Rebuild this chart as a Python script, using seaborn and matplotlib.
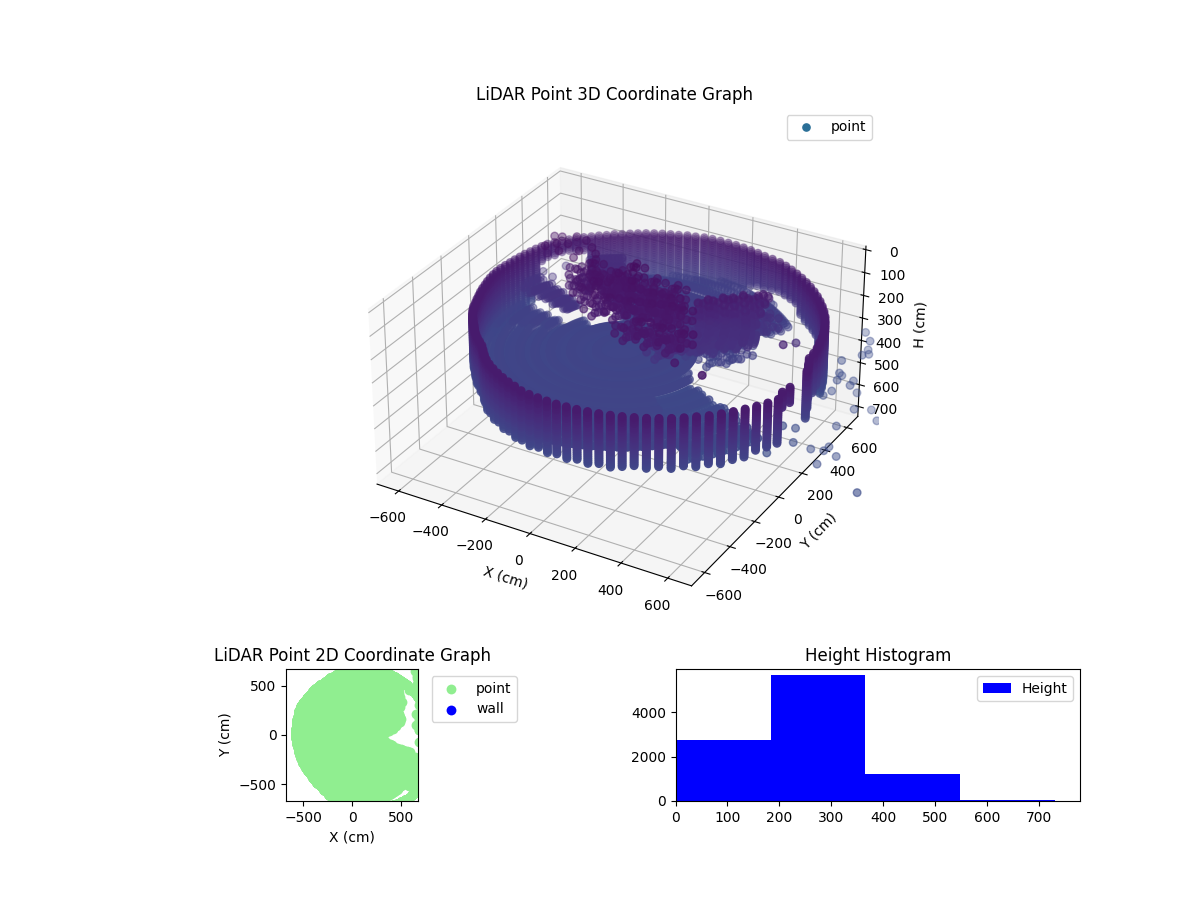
# LiDAR scan of a round room: 3D point cloud, top view and height histogram
import numpy as np
import seaborn as sns
import matplotlib.pyplot as plt
from matplotlib.lines import Line2D
from mpl_toolkits.mplot3d import Axes3D

# scan rays, one every 3 degrees
ray_angle = [0, 3, 6, 9, 12, 15, 18, 21, 24, 27,
             30, 33, 36, 39, 42, 45, 48, 51, 54, 57,
             60, 63, 66, 69, 72, 75, 78, 81, 84, 87,
             90, 93, 96, 99, 102, 105, 108, 111, 114, 117,
             120, 123, 126, 129, 132, 135, 138, 141, 144, 147,
             150, 153, 156, 159, 162, 165, 168, 171, 174, 177,
             180, 183, 186, 189, 192, 195, 198, 201, 204, 207,
             210, 213, 216, 219, 222, 225, 228, 231, 234, 237,
             240, 243, 246, 249, 252, 255, 258, 261, 264, 267,
             270, 273, 276, 279, 282, 285, 288, 291, 294, 297,
             300, 303, 306, 309, 312, 315, 318, 321, 324, 327,
             330, 333, 336, 339, 342, 345, 348, 351, 354, 357]
ray_offsets = [0, 1.5]

# distance to the wall along each ray
wall_range = [810, 808, 805, 800, 798, 795, 792, 788, 785, 780,
              775, 770, 765, 760, 755, 750, 745, 740, 735, 730,
              725, 715, 705, 700, 695, 690, 685, 680, 675, 670,
              665, 655, 650, 640, 635, 630, 625, 620, 615, 610,
              605, 605, 600, 600, 598, 598, 598, 598, 598, 600,
              600, 595, 590, 585, 582, 578, 576, 574, 574, 574,
              574, 572, 570, 568, 566, 566, 566, 566, 568, 570,
              575, 578, 580, 582, 584, 586, 592, 597, 602, 606,
              612, 625, 640, 655, 668, 680, 692, 704, 716, 728,
              743, 752, 760, 769, 778, 786, 795, 803, 812, 820,
              828, 836, 845, 852, 860, 866, 872, 880, 885, 890,
              895, 900, 905, 908, 880, 875, 870, 860, 850, 830]

# how far down each wall column was hit, -1 means no column
wall_bottom = [280, 280, 270, 260, 350, 350, 350, 350, 340, 340,
               330, 330, 280, 280, 280, 280, 270, 240, 240, 240,
               240, 250, 260, 260, 270, 300, 300, 310, 310, 320,
               340, 330, 340, 350, 340, 330, 340, 350, 340, 330,
               340, 350, 340, 330, 340, 170, 170, 160, 160, 170,
               170, 180, 280, 340, 380, 390, 380, 390, 380, 390,
               380, 390, 380, 340, 320, 330, 320, 330, 320, 330,
               320, 330, 320, 330, 320, 330, 320, 330, 320, 330,
               320, 330, 320, 330, 320, 330, 320, 330, 320, 330,
               320, 330, 320, 330, 320, 330, 320, 330, 320, 330,
               320, 310, 320, 310, 320, 310, 320, 310, 320, 310,
               310, 300, 300, 300, 180, 180, -1, -1, 310, 300]
wall_levels = [110, 118, 126, 134, 142, 150, 158, 166, 174, 182, 190, 198, 206, 214, 222,
               230, 238, 246, 254, 262, 270, 278, 286, 294, 302, 310, 318, 326,
               334, 342, 350, 358, 366, 374, 382, 390]

# floor hits along each ray, then the raised ledge beyond it (999: up to the wall)
floor_ranges = [20, 40, 60, 80, 100, 120, 140, 160, 180, 200, 220, 240, 260,
                280, 300, 320, 340, 360, 380, 400, 420, 440, 460, 480, 500,
                520, 540, 560, 580, 600, 620, 640, 660, 680, 700, 720, 740,
                760, 780, 800, 820, 840, 860, 880, 900]
# uneven ground, one offset per distance in floor_ranges
range_bump = [0, 6, -4, 7, -7, 3, 10, -5, 2, -9, 5, 8, -3, -10, 4,
              9, -6, 1, 11, -8, 2, -4, 7, -11, 5, 12, -3, -7, 4, 9,
              -5, 1, -12, 6, 3, -9, 8, -2, 10, -6, 0, -8, 5, -4, 3]
floor_h = 310
floor_reach = [280, 280, 280, 280, 280, 280, 280, 280, 280, 280,
               280, 280, 280, 280, 280, 280, 280, 280, 280, 280,
               280, 280, 280, 280, 280, 320, 280, 280, 280, 280,
               240, 240, 240, 240, 220, 220, 220, 220, 220, 220,
               220, 230, 230, 230, 230, 230, 230, 230, 230, 230,
               230, 280, 280, 280, 280, 280, 330, 330, 330, 330,
               380, 430, 480, 550, 999, 999, 999, 999, 999, 999,
               999, 999, 999, 999, 999, 999, 999, 999, 999, 999,
               999, 999, 999, 999, 999, 999, 999, 999, 999, 999,
               999, 999, 730, 730, 730, 730, 730, 730, 730, 730,
               730, 730, 730, 730, 730, 730, 350, 350, 350, 350,
               350, 350, 350, 350, 350, 350, 350, 290, 290, 300]
ledge_reach = [310, 350, 390, 420, 470, 510, 530, 530, 520, 510,
               520, 540, 570, 590, 640, 680, 680, 680, 680, 680,
               999, 999, 999, 999, 999, 999, 999, 999, 999, 999,
               999, 999, 999, 999, 999, 999, 999, 999, 999, 999,
               999, 999, 999, 999, 999, 0, 0, 0, 0, 0,
               0, 0, 999, 999, 999, 999, 999, 999, 999, 999,
               999, 999, 999, 999, 999, 0, 0, 0, 0, 0,
               0, 0, 0, 0, 0, 0, 0, 0, 0, 0,
               0, 0, 0, 0, 0, 0, 0, 0, 0, 0,
               0, 0, 0, 0, 0, 0, 0, 0, 0, 0,
               0, 0, 0, 0, 0, 0, 780, 780, 780, 780,
               780, 780, 780, 780, 620, 430, 0, 0, 0, 0]
ledge_h = [220, 220, 220, 210, 210, 210, 200, 200, 200, 190,
           180, 160, 140, 120, 290, 290, 290, 290, 290, 290,
           290, 290, 290, 290, 290, 290, 290, 290, 290, 290,
           290, 290, 290, 290, 290, 290, 290, 290, 290, 290,
           200, 200, 200, 200, 200, 0, 0, 0, 0, 0,
           0, 0, 230, 230, 230, 230, 300, 300, 300, 300,
           300, 300, 300, 300, 300, 0, 0, 0, 0, 0,
           0, 0, 0, 0, 0, 0, 0, 0, 0, 0,
           0, 0, 0, 0, 0, 0, 0, 0, 0, 0,
           0, 0, 0, 0, 0, 0, 0, 0, 0, 0,
           0, 0, 0, 0, 0, 0, 330, 330, 330, 330,
           330, 330, 330, 330, 330, 330, 0, 0, 0, 0]

# clutter hanging in the room, each centre gets a small clump of hits
clump_x = [-74, -213, -120, -41, 29, 127, -66, 18, 98, 176, 230, 134, 226, 320,
           -160, -30, 60, 140, -250,
           253, 327, 374, 435, 281, 351, 261, 345, 400, 241, 213]
clump_y = [170, 90, 89, 112, 152, 143, -46, -31, -7, 16, 7, -152, -153, -154,
           30, 60, 70, 70, 150,
           209, 241, 322, 335, 159, 199, 115, 130, 190, 27, -45]
clump_h = [70, 100, 100, 100, 100, 100, 100, 100, 100, 100, 100, 100, 100, 100,
           90, 100, 100, 100, 90,
           190, 210, 230, 230, 230, 250, 260, 290, 290, 210, 210]
clump_dx = [0, -25, 25, 0, 0, -25, 25, -25, 25, -50, 50, 0, 0,
            -50, 50, -50, 50, -75, 75, 0, 0]
clump_dy = [0, 0, 0, -25, 25, -25, -25, 25, 25, 0, 0, -50, 50,
            -50, -50, 50, 50, 0, 0, -75, 75]
clump_dh = [0, 15, -15, 20, -20, -10, 10, 25, -25, 5, -5, 12, -12,
            8, -8, 18, -18, 6, -6, 14, -14]

# single stray hits
stray_x = [649, 696, 683, 701, 718, 666, 665, 645, 704, 708, 682, 664, 685, 650, 732,
           745, 801, 728, 723, 718, 780, 682, 680, 681, 683, 680, 740, 968, 681, 682,
           650, 650, 582, 531, 398, -470, -525, -469, -359, -468, -351, -414,
           -330, -300, -400, -350, -440, -400, -450, -480, -260, -320, -400, -470]
stray_y = [852, 796, 810, 779, 677, 598, 584, 651, 636, 597, 529, 521, 717, 473, 594,
           734, 668, 442, 392, 355, 341, 311, 171, 56, 149, -72, 252, 143, 50, 103,
           100, 210, 463, -327, -297, 215, 271, 358, 223, 250, 371, 357,
           230, 280, 260, 320, 240, 330, 300, 290, 240, 170, 190, 200]
stray_h = [450, 450, 500, 500, 450, 450, 500, 550, 550, 550, 500, 550, 650, 550, 650,
           720, 720, 650, 720, 720, 720, 700, 535, 465, 586, 518, 720, 720, 350, 368,
           145, 190, 500, 100, 100, 100, 220, 220, 220, 220, 220, 100,
           60, 60, 60, 60, 60, 60, 60, 60, 60, 60, 60, 60]

# histogram of the full scan
height_edges = [0, 183, 366, 549, 731]
height_centers = [91, 275, 457, 640]
height_counts = [2757, 5678, 1228, 60]

wall_x = []
wall_y = []

x_pts, y_pts, h_pts = [], [], []
for i, angle in enumerate(ray_angle):
    ux, uy = np.cos(np.radians(angle)), np.sin(np.radians(angle))
    for level in wall_levels:
        if level <= wall_bottom[i]:
            x_pts.append(wall_range[i] * ux)
            y_pts.append(wall_range[i] * uy)
            h_pts.append(level)
    for off in ray_offsets:
        ux, uy = np.cos(np.radians(angle + off)), np.sin(np.radians(angle + off))
        for r, bump in zip(floor_ranges, range_bump):
            if r > wall_range[i] - 20:
                break
            if r <= floor_reach[i]:
                x_pts.append(r * ux)
                y_pts.append(r * uy)
                h_pts.append(floor_h + bump)
            elif r <= ledge_reach[i]:
                x_pts.append(r * ux)
                y_pts.append(r * uy)
                h_pts.append(ledge_h[i] + bump)

for cx, cy, ch in zip(clump_x, clump_y, clump_h):
    for dx, dy, dh in zip(clump_dx, clump_dy, clump_dh):
        x_pts.append(cx + dx)
        y_pts.append(cy + dy)
        h_pts.append(max(ch + dh, 0))

x_pts += stray_x
y_pts += stray_y
h_pts += stray_h

fig = plt.figure(figsize=(12, 9))
gs = fig.add_gridspec(2, 2, height_ratios=[4, 1], hspace=0.1, wspace=0.3)

# 3D cloud
ax1 = fig.add_subplot(gs[0, :], projection='3d')
ax1.scatter(x_pts, y_pts, h_pts, c=np.minimum(h_pts, 350), cmap='viridis', vmin=0, vmax=1500, s=30)
ax1.set_xlim(-701, 701)
ax1.set_ylim(-701, 701)
ax1.set_zlim(746, -15)
ax1.set_box_aspect((1402, 1402, 780))
ax1.set_title('LiDAR Point 3D Coordinate Graph')
ax1.set_xlabel('X (cm)')
ax1.set_ylabel('Y (cm)')
ax1.set_zlabel('H (cm)')
point_handle = Line2D([], [], ls='', marker='o', ms=5.2, color='#2a6f97')
ax1.legend(handles=[point_handle], labels=['point'], loc='upper right')

# top view
ax2 = fig.add_subplot(gs[1, 0])
sns.scatterplot(x=x_pts, y=y_pts, color='lightgreen', s=50, linewidth=0, label='point', ax=ax2)
ax2.scatter(wall_x, wall_y, c='blue', s=50, linewidths=0, label='wall')
ax2.set_xlim(-673, 673)
ax2.set_ylim(-673, 673)
ax2.set_aspect('equal')
ax2.set_title('LiDAR Point 2D Coordinate Graph')
ax2.set_xlabel('X (cm)')
ax2.set_ylabel('Y (cm)')
ax2.legend(loc='upper left', bbox_to_anchor=(1.05, 1))

# heights
ax3 = fig.add_subplot(gs[1, 1])
sns.histplot(x=height_centers, weights=height_counts, bins=height_edges, color='blue',
             alpha=1, linewidth=0, label='Height', ax=ax3)
ax3.set_xlim(0, 780)
ax3.set_ylim(0, 5933)
ax3.set_title('Height Histogram')
ax3.set_xlabel('')
ax3.set_ylabel('')
ax3.legend(loc='upper right')

plt.savefig('out.png', dpi=100)
